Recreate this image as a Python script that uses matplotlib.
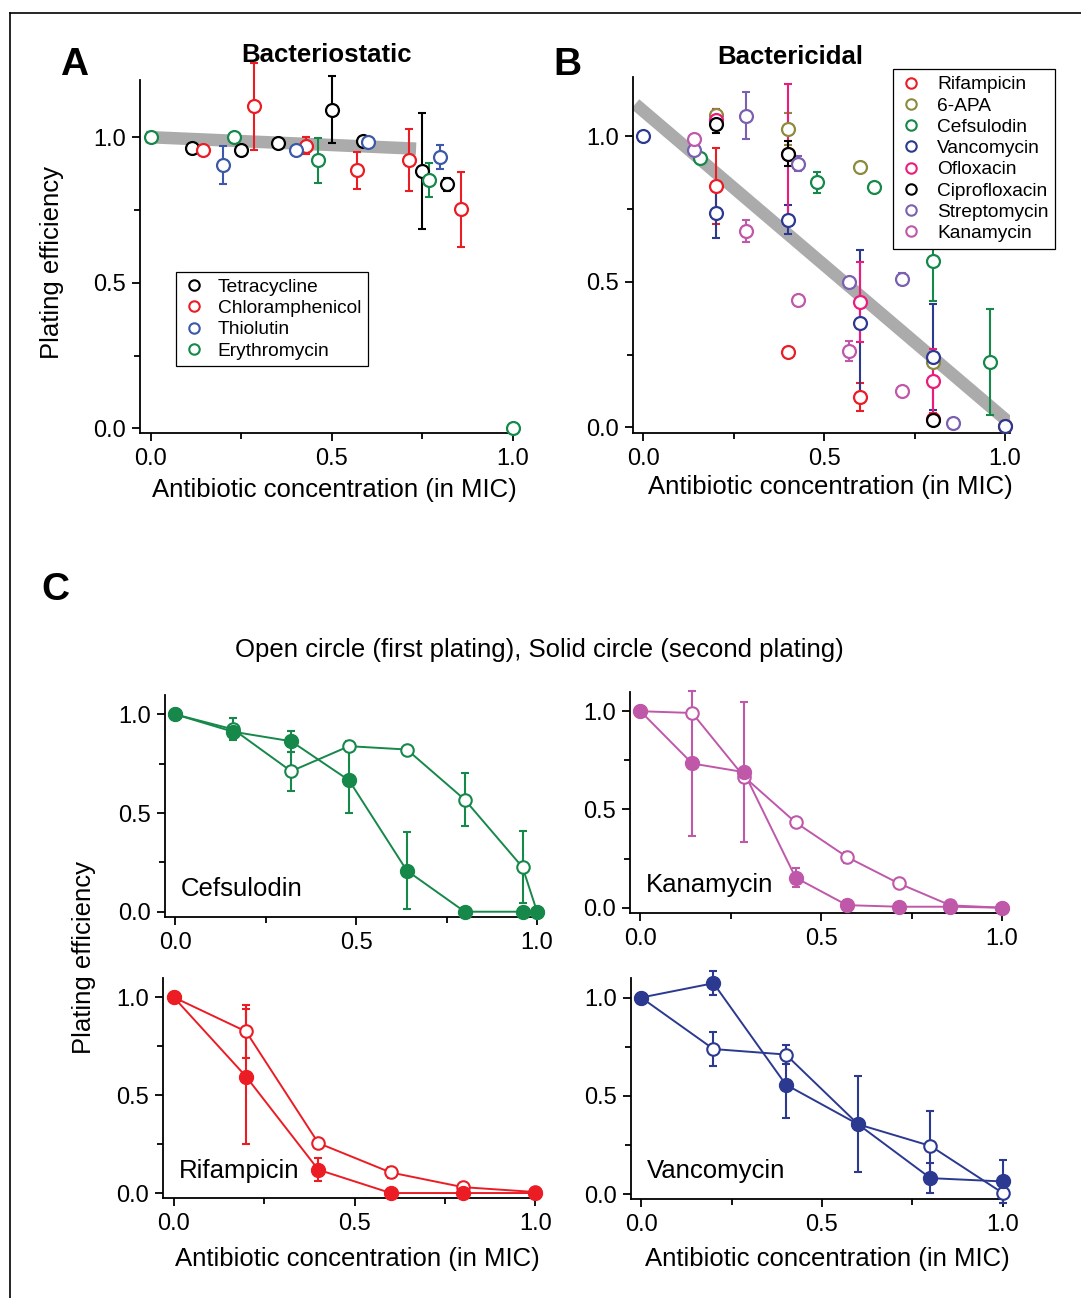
import matplotlib
matplotlib.use("Agg")
import matplotlib.pyplot as plt
from matplotlib.lines import Line2D

plt.rcParams['font.family'] = ['Liberation Sans', 'DejaVu Sans']

# ---- panel A: bacteriostatic (first plating) ----
tet_x = [0.115, 0.25, 0.352, 0.50, 0.585, 0.748, 0.819]
tet_y = [0.962, 0.955, 0.982, 1.095, 0.986, 0.884, 0.838]
tet_err = [0.01, 0.01, 0.012, 0.115, 0.01, 0.198, 0.022]
chl_x = [0.143, 0.286, 0.429, 0.570, 0.713, 0.856]
chl_y = [0.958, 1.106, 0.971, 0.887, 0.923, 0.752]
chl_err = [0.012, 0.15, 0.03, 0.063, 0.107, 0.129]
thi_x = [0.20, 0.40, 0.60, 0.80]
thi_y = [0.906, 0.958, 0.984, 0.932]
thi_err = [0.065, 0.012, 0.01, 0.042]
ery_x = [0.0, 0.231, 0.462, 0.769, 1.0]
ery_y = [1.0, 1.0, 0.921, 0.852, 0.0]
ery_err = [0.0, 0.0, 0.077, 0.058, 0.0]
fitA_x = [-0.014, 0.733]
fitA_y = [1.001, 0.961]

# ---- panel B: bactericidal (first plating) ----
rif_x = [0.2, 0.4, 0.6, 0.8, 1.0]
rif_y = [0.828, 0.258, 0.105, 0.03, 0.005]
rif_err = [0.13, 0.015, 0.048, 0.012, 0.005]
apa_x = [0.2, 0.4, 0.6, 0.8]
apa_y = [1.072, 1.026, 0.894, 0.224]
apa_err = [0.02, 0.055, 0.01, 0.01]
cef_x = [0.157, 0.48, 0.638, 0.8, 0.958]
cef_y = [0.925, 0.841, 0.826, 0.57, 0.225]
cef_err = [0.0, 0.035, 0.0, 0.135, 0.183]
van_x = [0.0, 0.2, 0.4, 0.6, 0.8, 1.0]
van_y = [1.0, 0.736, 0.713, 0.359, 0.241, 0.005]
van_err = [0.0, 0.086, 0.05, 0.249, 0.182, 0.01]
ofl_x = [0.2, 0.4, 0.6, 0.8]
ofl_y = [1.057, 0.94, 0.43, 0.161]
ofl_err = [0.035, 0.24, 0.138, 0.11]
cip_x = [0.2, 0.4, 0.8]
cip_y = [1.04, 0.94, 0.025]
cip_err = [0.03, 0.043, 0.01]
str_x = [0.141, 0.285, 0.427, 0.569, 0.715, 0.855]
str_y = [0.951, 1.07, 0.906, 0.498, 0.51, 0.016]
str_err = [0.01, 0.08, 0.025, 0.008, 0.02, 0.01]
kan_x = [0.141, 0.285, 0.427, 0.569, 0.715]
kan_y = [0.99, 0.673, 0.436, 0.262, 0.125]
kan_err = [0.012, 0.038, 0.01, 0.035, 0.01]
fitB_x = [-0.022, 1.014]
fitB_y = [1.11, 0.014]

# ---- panel C: first (open) vs second (solid) plating ----
c_cef_x = [0.0, 0.16, 0.32, 0.48, 0.64, 0.80, 0.96, 1.0]
c_cef_open = [1.0, 0.924, 0.712, 0.839, 0.822, 0.568, 0.225, 0.0]
c_cef_open_err = [0.0, 0.056, 0.10, 0.025, 0.0, 0.133, 0.183, 0.0]
c_cef_solid = [1.0, 0.912, 0.864, 0.666, 0.208, 0.0, 0.0, 0.0]
c_cef_solid_err = [0.0, 0.03, 0.053, 0.166, 0.195, 0.0, 0.0, 0.0]

c_kan_x = [0.0, 0.143, 0.286, 0.429, 0.571, 0.714, 0.857, 1.0]
c_kan_open = [1.0, 0.991, 0.667, 0.434, 0.258, 0.124, 0.012, 0.0]
c_kan_open_err = [0.0, 0.01, 0.02, 0.012, 0.028, 0.012, 0.008, 0.0]
c_kan_solid = [1.0, 0.734, 0.69, 0.153, 0.013, 0.005, 0.005, 0.0]
c_kan_solid_err = [0.0, 0.367, 0.358, 0.047, 0.02, 0.0, 0.0, 0.0]

c_rif_x = [0.0, 0.2, 0.4, 0.6, 0.8, 1.0]
c_rif_open = [1.0, 0.825, 0.255, 0.105, 0.03, 0.005]
c_rif_open_err = [0.0, 0.133, 0.012, 0.03, 0.01, 0.0]
c_rif_solid = [1.0, 0.595, 0.119, 0.0, 0.0, 0.0]
c_rif_solid_err = [0.0, 0.343, 0.06, 0.0, 0.0, 0.0]

c_van_x = [0.0, 0.2, 0.4, 0.6, 0.8, 1.0]
c_van_open = [1.0, 0.738, 0.71, 0.355, 0.245, 0.005]
c_van_open_err = [0.0, 0.087, 0.05, 0.0, 0.177, 0.0]
c_van_solid = [1.0, 1.073, 0.557, 0.355, 0.081, 0.064]
c_van_solid_err = [0.0, 0.062, 0.17, 0.245, 0.075, 0.11]

RED = '#ec1c24'
GREEN = '#15884a'
BLUE = '#3c58a8'
NAVY = '#2b3990'
OLIVE = '#8c8a3c'
PINK = '#ec1c7c'
PURPLE = '#7a60b0'
KANA = '#c058aa'

TICK_FS = 17
LABEL_FS = 18.5


def style_axes(ax, xlim, ylim):
    ax.set_xlim(*xlim)
    ax.set_ylim(*ylim)
    for side in ['top', 'right']:
        ax.spines[side].set_visible(False)
    for side in ['left', 'bottom']:
        ax.spines[side].set_linewidth(1.3)
    ax.set_xticks([0, 0.5, 1.0])
    ax.set_xticks([0.25, 0.75], minor=True)
    ax.set_yticks([0, 0.5, 1.0])
    ax.set_yticks([0.25, 0.75], minor=True)
    ax.set_xticklabels(['0.0', '0.5', '1.0'])
    ax.set_yticklabels(['0.0', '0.5', '1.0'])
    ax.tick_params(which='major', direction='out', length=6, width=1.3, labelsize=TICK_FS, pad=4.5)
    ax.tick_params(which='minor', direction='out', length=4.5, width=1.3)
    ax.tick_params(axis='y', pad=4)


def open_points(ax, x, y, err, color):
    ax.errorbar(x, y, yerr=err, fmt='none', ecolor=color, elinewidth=1.5,
                capsize=2.7, capthick=1.5, zorder=2, clip_on=False)
    ax.plot(x, y, 'o', ms=9.3, mfc='white', mec=color, mew=1.6, ls='none',
            zorder=3, clip_on=False)


def two_platings(ax, x, y_open, e_open, y_solid, e_solid, color, name):
    ax.errorbar(x, y_open, yerr=e_open, fmt='none', ecolor=color, elinewidth=1.5,
                capsize=2.7, capthick=1.5, zorder=2, clip_on=False)
    ax.errorbar(x, y_solid, yerr=e_solid, fmt='none', ecolor=color, elinewidth=1.5,
                capsize=2.7, capthick=1.5, zorder=2, clip_on=False)
    ax.plot(x, y_open, '-', color=color, lw=1.4, zorder=2, clip_on=False)
    ax.plot(x, y_solid, '-', color=color, lw=1.4, zorder=2, clip_on=False)
    ax.plot(x, y_open, 'o', ms=9, mfc='white', mec=color, mew=1.5, ls='none',
            zorder=3, clip_on=False)
    ax.plot(x, y_solid, 'o', ms=10, mfc=color, mec=color, mew=1.0, ls='none',
            zorder=4, clip_on=False)
    ax.text(0.015, 0.115, name, fontsize=LABEL_FS, ha='left', va='center')
    style_axes(ax, (-0.029, 1.008), (-0.027, 1.098))


def legend_handle(color, label):
    return Line2D([], [], marker='o', ls='none', ms=7.5, mfc='white', mec=color,
                  mew=1.5, label=label)


fig = plt.figure(figsize=(10.81, 12.98), dpi=100)

# frame lines around the figure (top and left visible)
fig.add_artist(Line2D([0.0093, 1.0], [0.99, 0.99], transform=fig.transFigure, color='black', lw=1.2))
fig.add_artist(Line2D([0.0093, 0.0093], [0.0, 0.99], transform=fig.transFigure, color='black', lw=1.2))

# panel A
axA = fig.add_axes([0.1295, 0.6664, 0.3488, 0.272])
axA.plot(fitA_x, fitA_y, color='#ababab', lw=9, solid_capstyle='butt', zorder=1)
open_points(axA, tet_x, tet_y, tet_err, 'black')
open_points(axA, chl_x, chl_y, chl_err, RED)
open_points(axA, thi_x, thi_y, thi_err, BLUE)
open_points(axA, ery_x, ery_y, ery_err, GREEN)
style_axes(axA, (-0.03, 1.012), (-0.016, 1.197))
legA = axA.legend(handles=[legend_handle('black', 'Tetracycline'),
                           legend_handle(RED, 'Chloramphenicol'),
                           legend_handle(BLUE, 'Thiolutin'),
                           legend_handle(GREEN, 'Erythromycin')],
                  loc='upper left', bbox_to_anchor=(0.0947, 0.457), borderaxespad=0,
                  fontsize=13.8, labelspacing=0.2, handlelength=1.2, handletextpad=0.65,
                  borderpad=0.35, fancybox=False, framealpha=1, edgecolor='black')
legA.get_frame().set_linewidth(0.9)

# panel B
axB = fig.add_axes([0.5856, 0.6664, 0.3488, 0.2743])
axB.plot(fitB_x, fitB_y, color='#ababab', lw=9, solid_capstyle='butt', zorder=1)
open_points(axB, rif_x, rif_y, rif_err, RED)
open_points(axB, apa_x, apa_y, apa_err, OLIVE)
open_points(axB, cef_x, cef_y, cef_err, GREEN)
open_points(axB, van_x, van_y, van_err, NAVY)
open_points(axB, ofl_x, ofl_y, ofl_err, PINK)
open_points(axB, cip_x, cip_y, cip_err, 'black')
open_points(axB, str_x, str_y, str_err, PURPLE)
open_points(axB, kan_x, kan_y, kan_err, KANA)
style_axes(axB, (-0.028, 1.014), (-0.019, 1.203))
legB = axB.legend(handles=[legend_handle(RED, 'Rifampicin'),
                           legend_handle(OLIVE, '6-APA'),
                           legend_handle(GREEN, 'Cefsulodin'),
                           legend_handle(NAVY, 'Vancomycin'),
                           legend_handle(PINK, 'Ofloxacin'),
                           legend_handle('black', 'Ciprofloxacin'),
                           legend_handle(PURPLE, 'Streptomycin'),
                           legend_handle(KANA, 'Kanamycin')],
                  loc='upper left', bbox_to_anchor=(0.689, 1.0216), borderaxespad=0,
                  fontsize=13.8, labelspacing=0.2, handlelength=1.2, handletextpad=0.75,
                  borderpad=0.35, fancybox=False, framealpha=1, edgecolor='black')
legB.get_frame().set_linewidth(0.9)

# panel C
axC1 = fig.add_axes([0.1526, 0.2935, 0.3469, 0.171])
two_platings(axC1, c_cef_x, c_cef_open, c_cef_open_err, c_cef_solid, c_cef_solid_err, GREEN, 'Cefsulodin')
axC2 = fig.add_axes([0.5828, 0.2966, 0.3469, 0.1703])
two_platings(axC2, c_kan_x, c_kan_open, c_kan_open_err, c_kan_solid, c_kan_solid_err, KANA, 'Kanamycin')
axC3 = fig.add_axes([0.151, 0.0768, 0.3469, 0.1697])
two_platings(axC3, c_rif_x, c_rif_open, c_rif_open_err, c_rif_solid, c_rif_solid_err, RED, 'Rifampicin')
axC4 = fig.add_axes([0.5834, 0.076, 0.3469, 0.1703])
two_platings(axC4, c_van_x, c_van_open, c_van_open_err, c_van_solid, c_van_solid_err, NAVY, 'Vancomycin')

# titles, panel letters and axis labels
fig.text(0.069, 0.95, 'A', fontsize=28, fontweight='bold', ha='center', va='center')
fig.text(0.5245, 0.95, 'B', fontsize=28, fontweight='bold', ha='center', va='center')
fig.text(0.051, 0.5455, 'C', fontsize=28, fontweight='bold', ha='center', va='center')
fig.text(0.3016, 0.9576, 'Bacteriostatic', fontsize=LABEL_FS, fontweight='bold', ha='center', va='center')
fig.text(0.7308, 0.956, 'Bactericidal', fontsize=LABEL_FS, fontweight='bold', ha='center', va='center')
fig.text(0.4986, 0.4992, 'Open circle (first plating), Solid circle (second plating)',
         fontsize=LABEL_FS, ha='center', va='center')
fig.text(0.309, 0.6225, 'Antibiotic concentration (in MIC)', fontsize=LABEL_FS, ha='center', va='center')
fig.text(0.7678, 0.6248, 'Antibiotic concentration (in MIC)', fontsize=LABEL_FS, ha='center', va='center')
fig.text(0.331, 0.03, 'Antibiotic concentration (in MIC)', fontsize=LABEL_FS, ha='center', va='center')
fig.text(0.765, 0.03, 'Antibiotic concentration (in MIC)', fontsize=LABEL_FS, ha='center', va='center')
fig.text(0.048, 0.7974, 'Plating efficiency', fontsize=LABEL_FS, rotation=90, ha='center', va='center')
fig.text(0.0777, 0.262, 'Plating efficiency', fontsize=LABEL_FS, rotation=90, ha='center', va='center')

fig.savefig('out.png', dpi=100)
